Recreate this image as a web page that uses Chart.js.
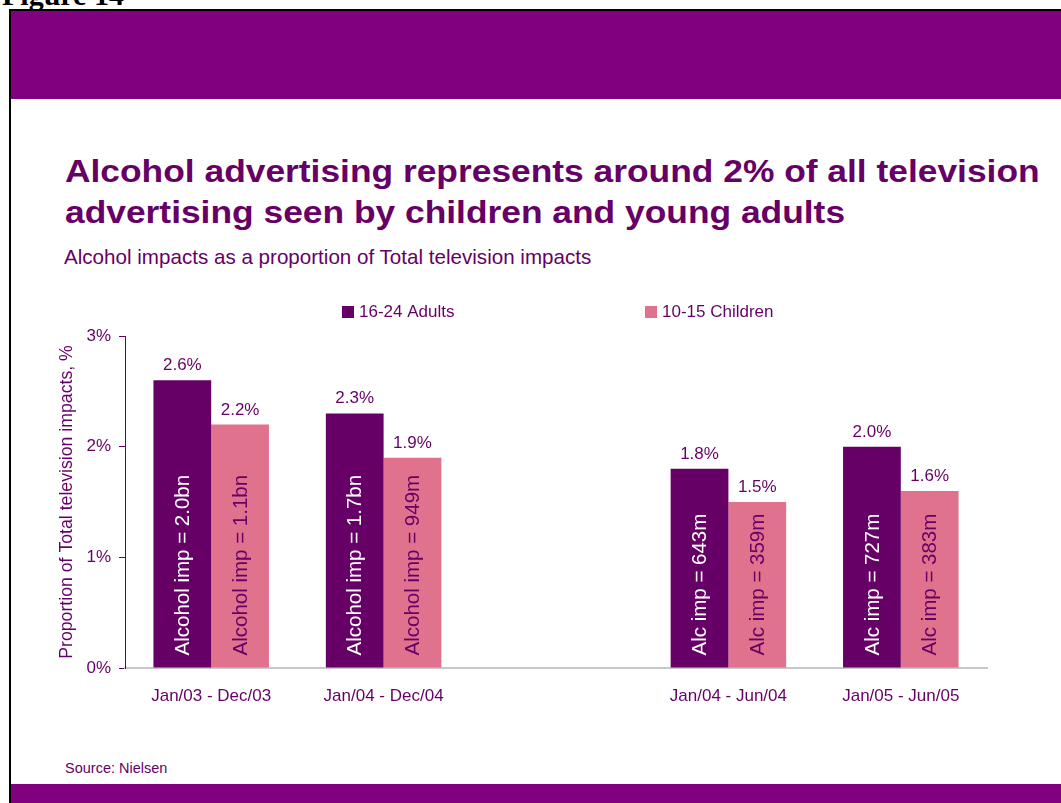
<!DOCTYPE html>
<html>
<head>
<meta charset="utf-8">
<script src="https://cdn.jsdelivr.net/npm/chart.js@4/dist/chart.umd.min.js"></script>
<style>
  body { margin: 0; background: #fff; width: 1061px; height: 803px; overflow: hidden; position: relative; font-family: "Liberation Sans", Arial, sans-serif; }
  .fig { position: absolute; left: 2px; top: -20px; font: bold 30px "Liberation Serif", "Times New Roman", serif; color: #000; line-height: 30px; }
  .frame-top { position: absolute; left: 9px; top: 9px; width: 1052px; height: 2px; background: #000; }
  .frame-left { position: absolute; left: 9px; top: 9px; width: 2px; height: 794px; background: #000; }
  .band-top { position: absolute; left: 11px; top: 11px; width: 1050px; height: 88px; background: #800080; }
  .band-bottom { position: absolute; left: 11px; top: 784px; width: 1050px; height: 19px; background: #800080; }
  .title { position: absolute; left: 65px; top: 151px; font-weight: bold; font-size: 32px; line-height: 41px; color: #660066; transform: scaleX(1.105); transform-origin: left top; white-space: nowrap; }
  .subtitle { position: absolute; left: 64px; top: 245px; font-size: 20.6px; line-height: 24px; color: #660066; }
  .source { position: absolute; left: 65px; top: 760px; font-size: 14.5px; line-height: 17px; color: #660066; }
  #myChart { position: absolute; left: 0; top: 290px; }
</style>
</head>
<body>
<div class="fig">Figure 14</div>
<div class="frame-top"></div>
<div class="frame-left"></div>
<div class="band-top"></div>
<div class="title">Alcohol advertising represents around 2% of all television<br>advertising seen by children and young adults</div>
<div class="subtitle">Alcohol impacts as a proportion of Total television impacts</div>
<canvas id="myChart" width="1061" height="430"></canvas>
<div class="source">Source: Nielsen</div>
<div class="band-bottom"></div>

<script>
// Periods (the blank slot separates full years from half years)
let periods = ['Jan/03 - Dec/03', 'Jan/04 - Dec/04', '', 'Jan/04 - Jun/04', 'Jan/05 - Jun/05']

// Alcohol share of all TV impacts, %
let adults = [2.6, 2.3, null, 1.8, 2.0]
let children = [2.2, 1.9, null, 1.5, 1.6]

// Absolute alcohol impacts written inside each bar
let adultsImpacts = ['Alcohol imp = 2.0bn', 'Alcohol imp = 1.7bn', '', 'Alc imp = 643m', 'Alc imp = 727m']
let childrenImpacts = ['Alcohol imp = 1.1bn', 'Alcohol imp = 949m', '', 'Alc imp = 359m', 'Alc imp = 383m']

let yTicks = [0, 1, 2, 3]

let purple = '#660066'
let pink = '#E1728D'
let font = '"Liberation Sans", Arial, sans-serif'

// Value labels above bars and rotated impact text inside them
let barText = {
  id: 'barText',
  afterDatasetsDraw(chart) {
    let ctx = chart.ctx
    let inner = [adultsImpacts, childrenImpacts]
    let innerColor = ['#ffffff', purple]
    chart.data.datasets.forEach(function(ds, i) {
      let meta = chart.getDatasetMeta(i)
      meta.data.forEach(function(bar, j) {
        let v = ds.data[j]
        if (v === null) return
        ctx.save()
        ctx.font = `17px ${font}`
        ctx.fillStyle = purple
        ctx.textAlign = 'center'
        ctx.textBaseline = 'alphabetic'
        ctx.fillText(v.toFixed(1) + '%', bar.x, bar.y - 10)

        ctx.translate(bar.x, bar.base - 12)
        ctx.rotate(-Math.PI / 2)
        ctx.font = `20.5px ${font}`
        ctx.fillStyle = innerColor[i]
        ctx.textAlign = 'left'
        ctx.textBaseline = 'middle'
        ctx.fillText(inner[i][j], 0, 1)
        ctx.restore()
      })
    })
  }
}

// Legend drawn as two widely spaced entries above the plot
let wideLegend = {
  id: 'wideLegend',
  afterDraw(chart) {
    let ctx = chart.ctx
    let xs = [342, 645]
    chart.data.datasets.forEach(function(ds, i) {
      ctx.save()
      ctx.fillStyle = ds.backgroundColor
      ctx.fillRect(xs[i], 16, 12, 12)
      ctx.font = `17px ${font}`
      ctx.fillStyle = purple
      ctx.textBaseline = 'middle'
      ctx.fillText(ds.label, xs[i] + 17, 22)
      ctx.restore()
    })
  }
}

new Chart(document.getElementById('myChart'), {
  type: 'bar',
  data: {
    labels: periods,
    datasets: [
      { label: '16-24 Adults', data: adults, backgroundColor: purple },
      { label: '10-15 Children', data: children, backgroundColor: pink }
    ]
  },
  options: {
    responsive: false,
    animation: false,
    devicePixelRatio: 1,
    categoryPercentage: 0.67,
    barPercentage: 1.0,
    layout: { padding: { left: 52, right: 74, top: 46, bottom: 12 } },
    plugins: {
      legend: { display: false },
      tooltip: { enabled: false }
    },
    scales: {
      x: {
        grid: { display: false, drawTicks: false },
        border: { color: '#c8c8c8', width: 2 },
        ticks: { color: purple, font: { family: font, size: 17 }, padding: 18, maxRotation: 0 },
        afterFit(scale) { scale.height = 40 }
      },
      y: {
        min: 0,
        max: 3,
        afterBuildTicks(scale) { scale.ticks = yTicks.map(v => ({ value: v })) },
        grid: { drawOnChartArea: false, drawTicks: true, tickLength: 6, color: purple },
        border: { color: purple, width: 1 },
        ticks: { color: purple, font: { family: font, size: 17 }, padding: 8, callback: v => v + '%' },
        title: {
          display: true,
          text: 'Proportion of Total television impacts, %',
          color: purple,
          font: { family: font, size: 17.7 },
          padding: { top: 4, bottom: 0 }
        },
        afterFit(scale) { scale.width = 73 }
      }
    }
  },
  plugins: [barText, wideLegend]
})
</script>
</body>
</html>
